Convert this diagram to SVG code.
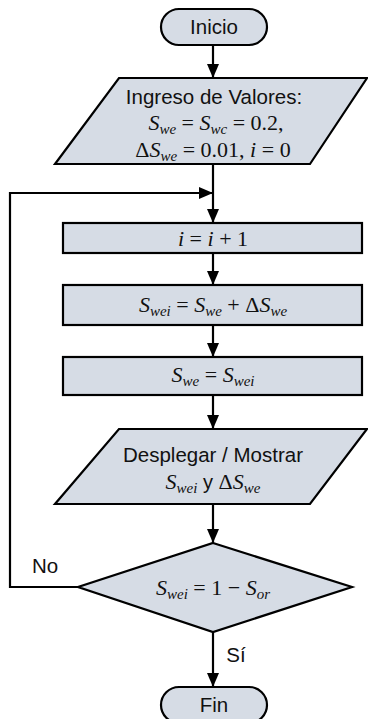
<svg xmlns="http://www.w3.org/2000/svg" width="368" height="719" viewBox="0 0 368 719">
<style>
.shape{fill:#d6dce5;stroke:#000;stroke-width:2.2}
.lbl{font-family:"Liberation Sans",Arial,sans-serif;font-size:20.5px;fill:#111;text-anchor:middle}
.m{font-family:"Liberation Serif","Times New Roman",serif;font-size:22px;fill:#111;text-anchor:middle}
.v{font-style:italic}
.s{font-style:italic;font-size:15px}
.conn{fill:none;stroke:#000;stroke-width:2.2}
</style>
<defs>
<marker id="ahl" viewBox="0 0 14 12" refX="14" refY="6" markerWidth="14" markerHeight="12" markerUnits="userSpaceOnUse" orient="auto">
<path d="M0,0 L14,6 L0,12 z" fill="#000"/>
</marker>
</defs>
<g id="connectors">
<line class="conn" x1="213" y1="45" x2="213" y2="78" marker-end="url(#ahl)"/>
<line class="conn" x1="213" y1="164" x2="213" y2="223" marker-end="url(#ahl)"/>
<path class="conn" d="M78,587 H10 V193 H213" marker-end="url(#ahl)"/>
<line class="conn" x1="213" y1="253" x2="213" y2="285" marker-end="url(#ahl)"/>
<line class="conn" x1="213" y1="325" x2="213" y2="357" marker-end="url(#ahl)"/>
<line class="conn" x1="213" y1="395" x2="213" y2="429" marker-end="url(#ahl)"/>
<line class="conn" x1="213" y1="504" x2="213" y2="543" marker-end="url(#ahl)"/>
<line class="conn" x1="213" y1="632" x2="213" y2="687" marker-end="url(#ahl)"/>
<text class="lbl" x="45" y="573">No</text>
<text class="lbl" x="236" y="662">Sí</text>
</g>
<g id="inicio">
<rect class="shape" x="161" y="9" width="106" height="36" rx="18"/>
<text class="lbl" x="214" y="34">Inicio</text>
</g>
<g id="ingreso">
<polygon class="shape" points="119,78 367,78 310,164 55,164"/>
<text class="lbl" x="214" y="104">Ingreso de Valores:</text>
<text class="m" x="216" y="130"><tspan class="v">S</tspan><tspan class="s" dy="4">we</tspan><tspan dy="-4"> = </tspan><tspan class="v">S</tspan><tspan class="s" dy="4">wc</tspan><tspan dy="-4"> = 0.2,</tspan></text>
<text class="m" x="213" y="157">Δ<tspan class="v">S</tspan><tspan class="s" dy="4">we</tspan><tspan dy="-4"> = 0.01, </tspan><tspan class="v">i</tspan><tspan> = 0</tspan></text>
</g>
<g id="incremento">
<rect class="shape" x="63" y="223" width="299" height="30"/>
<text class="m" x="213" y="246"><tspan class="v">i</tspan> = <tspan class="v">i</tspan> + 1</text>
</g>
<g id="calculo">
<rect class="shape" x="63" y="285" width="299" height="40"/>
<text class="m" x="213" y="312"><tspan class="v">S</tspan><tspan class="s" dy="4">wei</tspan><tspan dy="-4"> = </tspan><tspan class="v">S</tspan><tspan class="s" dy="4">we</tspan><tspan dy="-4"> + Δ</tspan><tspan class="v">S</tspan><tspan class="s" dy="4">we</tspan></text>
</g>
<g id="asignacion">
<rect class="shape" x="63" y="357" width="299" height="38"/>
<text class="m" x="213" y="382"><tspan class="v">S</tspan><tspan class="s" dy="4">we</tspan><tspan dy="-4"> = </tspan><tspan class="v">S</tspan><tspan class="s" dy="4">wei</tspan></text>
</g>
<g id="mostrar">
<polygon class="shape" points="119,429 367,429 310,504 55,504"/>
<text class="lbl" x="213" y="462">Desplegar / Mostrar</text>
<text class="m" x="213" y="489"><tspan class="v">S</tspan><tspan class="s" dy="4">wei</tspan><tspan dy="-4" font-family="Liberation Sans" font-size="20"> y </tspan><tspan>Δ</tspan><tspan class="v">S</tspan><tspan class="s" dy="4">we</tspan></text>
</g>
<g id="decision">
<polygon class="shape" points="213,543 352,587 213,632 78,587"/>
<text class="m" x="213" y="595"><tspan class="v">S</tspan><tspan class="s" dy="4">wei</tspan><tspan dy="-4"> = 1 − </tspan><tspan class="v">S</tspan><tspan class="s" dy="4">or</tspan></text>
</g>
<g id="fin">
<rect class="shape" x="161" y="687" width="106" height="36" rx="18"/>
<text class="lbl" x="214" y="712">Fin</text>
</g>
</svg>
